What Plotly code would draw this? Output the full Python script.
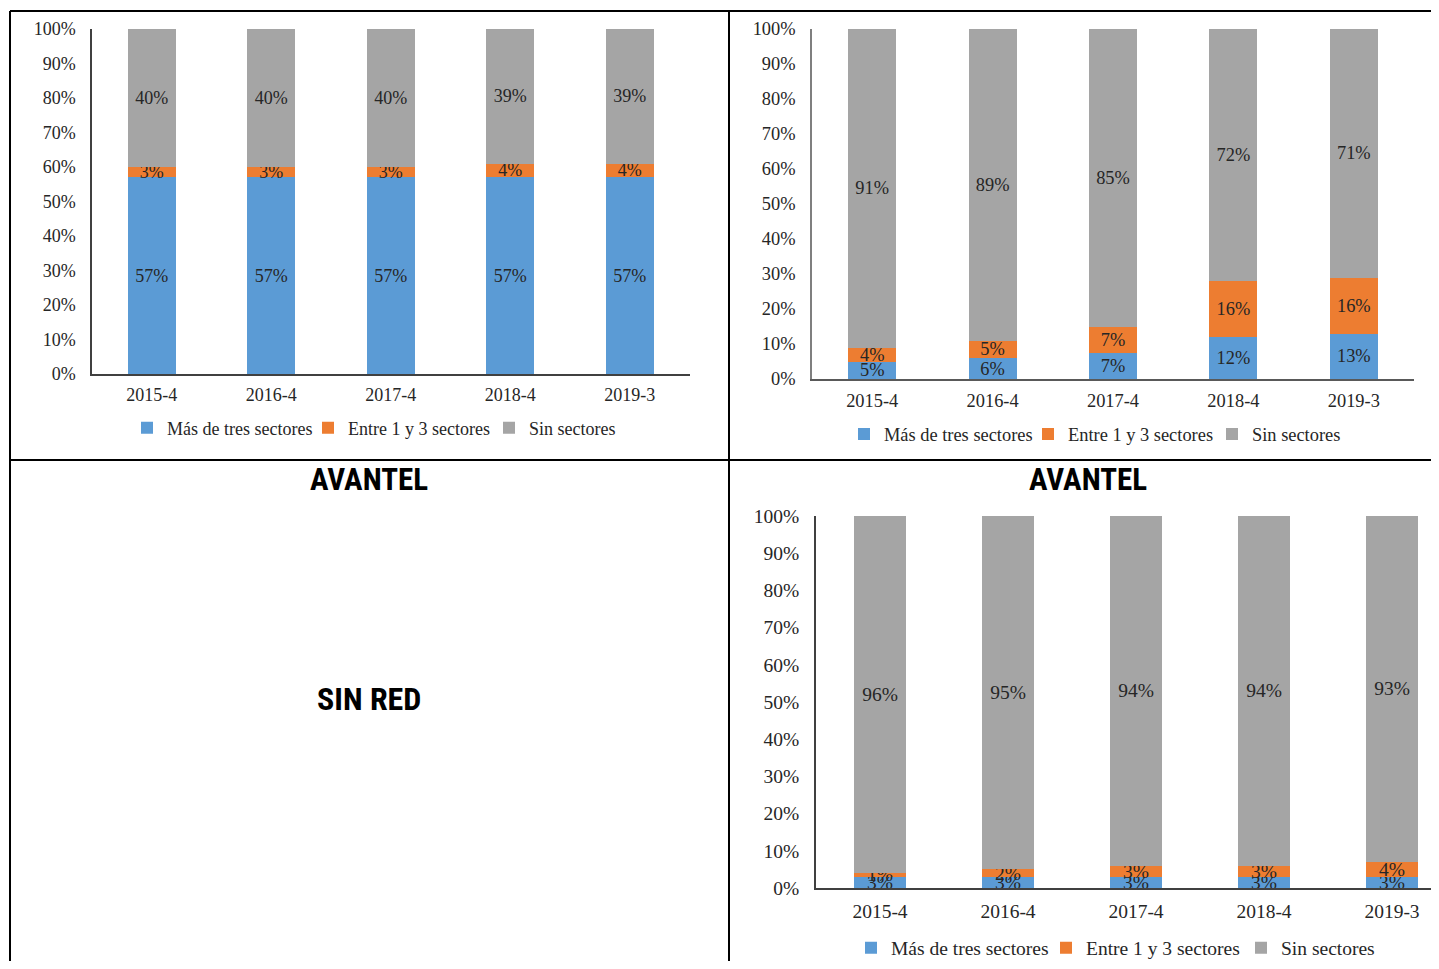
import plotly.graph_objects as go

W, H = 1439, 969
OFF = 8  # default body margin of the page
FW, FH = W - 2 * OFF, H - 2 * OFF

categories = ["2015-4", "2016-4", "2017-4", "2018-4", "2019-3"]
series_names = ["Más de tres sectores", "Entre 1 y 3 sectores", "Sin sectores"]
colors = ["#5B9BD5", "#ED7D31", "#A5A5A5"]

# Chart 1 (top-left)
c1_mas = [57, 57, 57, 57, 57]
c1_entre = [3, 3, 3, 4, 4]
c1_sin = [40, 40, 40, 39, 39]

# Chart 2 (top-right)
c2_mas = [5, 6, 7.4, 12, 13]
c2_entre = [4, 5, 7.4, 16, 16]
c2_sin = [91, 89, 85.2, 72, 71]

# Chart 3 (bottom-right, AVANTEL)
c3_mas = [3, 3, 3, 3, 3]
c3_entre = [1, 2, 3, 3, 4]
c3_sin = [96, 95, 94, 94, 93]

y_ticks = list(range(0, 101, 10))
y_ticktext = ["%d%%" % v for v in y_ticks]

FONT = "Liberation Serif, DejaVu Serif, serif"
TXT = "#262626"


def px_x(x):
    return (x - OFF) / FW


def px_y(y):
    return 1 - (y - OFF) / FH


fig = go.Figure()

charts = [
    (c1_mas, c1_entre, c1_sin, "x", "y", "legend", 18),
    (c2_mas, c2_entre, c2_sin, "x2", "y2", "legend2", 18.4),
    (c3_mas, c3_entre, c3_sin, "x3", "y3", "legend3", 19.5),
]

for vals_a, vals_b, vals_c, xa, ya, lg, fs in charts:
    for name, vals, col in zip(series_names, [vals_a, vals_b, vals_c], colors):
        fig.add_trace(go.Bar(
            x=categories, y=vals, name=name, marker=dict(color=col, line=dict(width=0)),
            xaxis=xa, yaxis=ya, legend=lg,
            texttemplate="%{y:.0f}%", textposition="inside",
            insidetextanchor="middle", textangle=0, constraintext="none",
            textfont=dict(family=FONT, size=fs, color=TXT),
            hoverinfo="skip",
        ))


def make_xaxis(x0, x1, rng, anchor, linec, standoff, fs):
    return dict(type="category", domain=[px_x(x0), min(1, px_x(x1))], range=rng,
                anchor=anchor, showline=True, linecolor=linec, linewidth=1.5,
                showgrid=False, zeroline=False, ticks="",
                tickfont=dict(family=FONT, size=fs, color=TXT),
                ticklabelstandoff=standoff, fixedrange=True, automargin=False)


def make_yaxis(ytop, ybot, anchor, linec, fs):
    return dict(type="linear", domain=[px_y(ybot), px_y(ytop)], range=[0, 100],
                anchor=anchor, tickmode="array", tickvals=y_ticks,
                ticktext=y_ticktext, showline=True, linecolor=linec,
                linewidth=1.5, showgrid=False, zeroline=False, ticks="",
                tickfont=dict(family=FONT, size=fs, color=TXT),
                ticklabelstandoff=11, fixedrange=True, automargin=False)


fig.update_layout(
    width=FW, height=FH, margin=dict(l=0, r=0, t=0, b=0, autoexpand=False),
    autosize=False,
    paper_bgcolor="white", plot_bgcolor="white",
    barmode="stack", bargap=0.6,
    uniformtext=dict(mode="show", minsize=18),
    font=dict(family=FONT, color=TXT),
    xaxis=make_xaxis(92, 689.5, [-0.5, 4.5], "y", "#404040", 4, 18),
    yaxis=make_yaxis(29, 374, "x", "#404040", 18),
    xaxis2=make_xaxis(812, 1414, [-0.5, 4.5], "y2", "#595959", 4, 18.4),
    yaxis2=make_yaxis(29, 379, "x2", "#7F7F7F", 18.4),
    xaxis3=make_xaxis(816, 1431, [-0.5, 4.5 - 25 / 128], "y3", "#404040", 5, 19.5),
    yaxis3=make_yaxis(516, 888, "x3", "#404040", 19.5),
    showlegend=True,
)


def legend(left, cy, ew, fs):
    return dict(orientation="h", x=px_x(left), y=px_y(cy), xanchor="left",
                yanchor="middle", font=dict(family=FONT, size=fs, color=TXT),
                itemwidth=30, entrywidth=ew, entrywidthmode="pixels",
                bgcolor="rgba(0,0,0,0)", traceorder="normal",
                itemclick=False, itemdoubleclick=False)


fig.update_layout(legend=legend(127, 428, 136, 18),
                  legend2=legend(844, 434, 139, 18.4),
                  legend3=legend(851, 948, 150, 19.5))

# Titles
TFONT = dict(family="Liberation Sans Narrow, Roboto Condensed, Liberation Sans, sans-serif",
             size=31, color="black")
for tx, ty, t, s in [(369, 479, "AVANTEL", 31), (1088, 479, "AVANTEL", 31),
                     (369, 699, "SIN RED", 32)]:
    fig.add_annotation(text="<b>%s</b>" % t, x=px_x(tx), y=px_y(ty), xref="paper",
                       yref="paper", showarrow=False, font=dict(TFONT, size=s),
                       xanchor="center", yanchor="middle")

# Table borders
line = dict(color="black", width=2)
borders = [
    (10, 11, 1431, 11),
    (10, 11, 10, 961),
    (729, 11, 729, 961),
    (10, 460, 1431, 460),
]
for x0, y0, x1, y1 in borders:
    fig.add_shape(type="line", xref="paper", yref="paper",
                  x0=px_x(x0), y0=px_y(y0), x1=px_x(x1), y1=px_y(y1), line=line)

fig.write_html("out.html")
